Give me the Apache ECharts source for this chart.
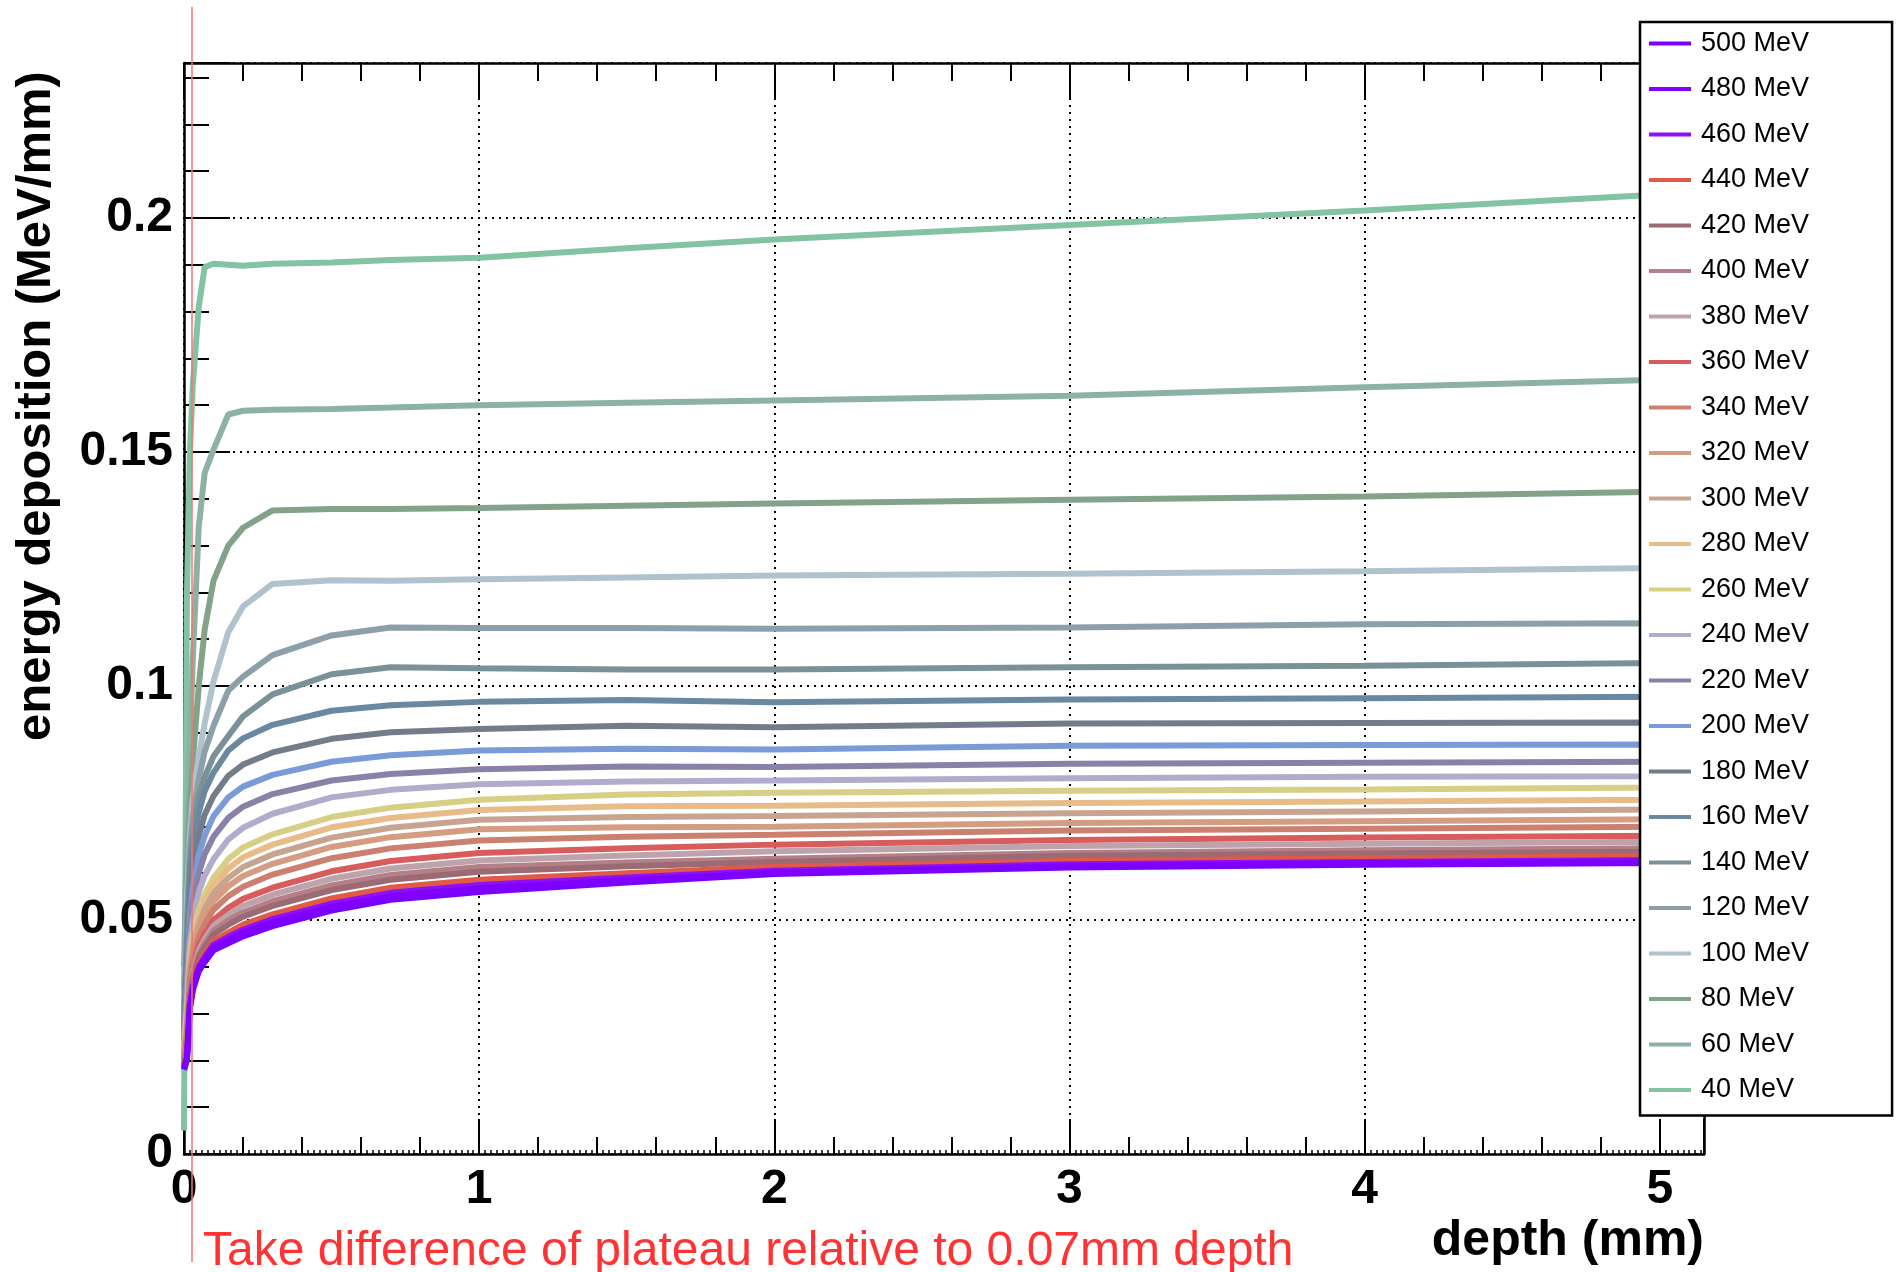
<!DOCTYPE html>
<html>
<head>
<meta charset="utf-8">
<script src="https://cdn.jsdelivr.net/npm/echarts@6/dist/echarts.min.js"></script>
<style>html,body{margin:0;padding:0;background:#fff}#c{width:1898px;height:1272px}</style>
</head>
<body>
<div id="c"></div>
<script>
// ---- data ----
const depth = [0, 0.01, 0.02, 0.03, 0.05, 0.07, 0.1, 0.15, 0.2, 0.3, 0.5, 0.7, 1.0, 1.5, 2.0, 3.0, 4.0, 5.0, 5.15];

const e40  = [0.005, 0.12, 0.15, 0.1645, 0.181, 0.1895, 0.1902, 0.19, 0.1898, 0.1902, 0.1905, 0.191, 0.1915, 0.1935, 0.1954, 0.1985, 0.2016, 0.205, 0.2055];
const e60  = [0.04, 0.07, 0.088, 0.106, 0.134, 0.1455, 0.1505, 0.158, 0.1588, 0.159, 0.1592, 0.1595, 0.16, 0.1605, 0.161, 0.162, 0.1638, 0.1654, 0.1658];
const e80  = [0.035, 0.06, 0.075, 0.084, 0.1, 0.112, 0.1225, 0.13, 0.1338, 0.1375, 0.1378, 0.1378, 0.138, 0.1385, 0.139, 0.1398, 0.1405, 0.1415, 0.1418];
const e100 = [0.032, 0.055, 0.068, 0.076, 0.085, 0.092, 0.101, 0.1115, 0.117, 0.1218, 0.1226, 0.1225, 0.1228, 0.1232, 0.1236, 0.124, 0.1245, 0.1252, 0.1255];
const e120 = [0.03, 0.05, 0.065, 0.072, 0.080, 0.086, 0.0915, 0.099, 0.102, 0.1066, 0.1108, 0.1125, 0.1124, 0.1124, 0.1122, 0.1125, 0.1132, 0.1134, 0.1133];
const e140 = [0.028, 0.046, 0.062, 0.069, 0.0765, 0.0805, 0.085, 0.0893, 0.0935, 0.0982, 0.1025, 0.104, 0.1038, 0.1035, 0.1035, 0.104, 0.1043, 0.1049, 0.1048];
const e160 = [0.027, 0.043, 0.059, 0.066, 0.073, 0.0775, 0.0815, 0.0862, 0.0888, 0.0917, 0.0947, 0.0959, 0.0966, 0.097, 0.0965, 0.0971, 0.0974, 0.0977, 0.0976];
const e180 = [0.026, 0.040, 0.055, 0.062, 0.068, 0.0725, 0.0765, 0.0808, 0.0832, 0.0858, 0.0887, 0.0901, 0.0908, 0.0915, 0.0912, 0.092, 0.0921, 0.0922, 0.0921];
const e200 = [0.025, 0.037, 0.051, 0.057, 0.064, 0.068, 0.0722, 0.0762, 0.0785, 0.081, 0.0838, 0.0852, 0.0862, 0.0866, 0.0864, 0.0872, 0.0874, 0.0875, 0.0874];
const e220 = [0.024, 0.035, 0.048, 0.054, 0.060, 0.064, 0.0678, 0.0718, 0.0742, 0.0769, 0.0798, 0.0812, 0.0822, 0.0828, 0.0827, 0.0834, 0.0836, 0.0838, 0.0838];
const e240 = [0.023, 0.033, 0.045, 0.050, 0.056, 0.0595, 0.063, 0.0672, 0.0697, 0.0727, 0.0762, 0.0778, 0.079, 0.0796, 0.0798, 0.0803, 0.0806, 0.0807, 0.0808];
const e260 = [0.022, 0.030, 0.042, 0.047, 0.052, 0.0555, 0.059, 0.063, 0.0655, 0.0683, 0.072, 0.074, 0.0757, 0.0768, 0.0772, 0.0776, 0.0779, 0.0783, 0.0784];
const e280 = [0.0216, 0.0289, 0.0408, 0.0457, 0.0506, 0.0539, 0.0573, 0.061, 0.0634, 0.0661, 0.0698, 0.0718, 0.0735, 0.0743, 0.0744, 0.075, 0.0753, 0.0757, 0.0758];
const e300 = [0.0211, 0.0278, 0.0396, 0.0444, 0.0491, 0.0523, 0.0556, 0.059, 0.0613, 0.064, 0.0676, 0.0697, 0.0714, 0.072, 0.0722, 0.0728, 0.0732, 0.0736, 0.0736];
const e320 = [0.0207, 0.0268, 0.0385, 0.0432, 0.0478, 0.0509, 0.054, 0.0572, 0.0594, 0.062, 0.0656, 0.0677, 0.0694, 0.0698, 0.0699, 0.0707, 0.0711, 0.0715, 0.0715];
const e340 = [0.0202, 0.0256, 0.0372, 0.0417, 0.0463, 0.0491, 0.0522, 0.0551, 0.0571, 0.0597, 0.0632, 0.0653, 0.067, 0.0678, 0.0682, 0.0691, 0.0695, 0.0699, 0.0699];
const e360 = [0.0197, 0.0242, 0.0356, 0.04, 0.0445, 0.0471, 0.05, 0.0526, 0.0545, 0.0569, 0.0604, 0.0626, 0.0643, 0.0653, 0.0661, 0.0671, 0.0676, 0.068, 0.0679];
const e380 = [0.0194, 0.0234, 0.0347, 0.0391, 0.0434, 0.0459, 0.0488, 0.0511, 0.053, 0.0554, 0.0588, 0.061, 0.0627, 0.0638, 0.0647, 0.0658, 0.0663, 0.0667, 0.0666];
const e400 = [0.0191, 0.0227, 0.034, 0.0382, 0.0425, 0.0449, 0.0477, 0.0499, 0.0516, 0.054, 0.0574, 0.0596, 0.0613, 0.0623, 0.0631, 0.0643, 0.0649, 0.0653, 0.0651];
const e420 = [0.0189, 0.0222, 0.0334, 0.0376, 0.0419, 0.0442, 0.0469, 0.049, 0.0507, 0.053, 0.0564, 0.0586, 0.0603, 0.0615, 0.0624, 0.0637, 0.0642, 0.0646, 0.0645];
const e440 = [0.0185, 0.0213, 0.0324, 0.0366, 0.0407, 0.0429, 0.0455, 0.0473, 0.049, 0.0512, 0.0546, 0.0569, 0.0586, 0.06, 0.0613, 0.0626, 0.0632, 0.0636, 0.0634];
const e460 = [0.0183, 0.0208, 0.0318, 0.0359, 0.0400, 0.0421, 0.0447, 0.0464, 0.0479, 0.0502, 0.0535, 0.0558, 0.0575, 0.0591, 0.0605, 0.0619, 0.0624, 0.0628, 0.0627];
const e480 = [0.0182, 0.0204, 0.0314, 0.0355, 0.0395, 0.0416, 0.0441, 0.0457, 0.0473, 0.0495, 0.0528, 0.0551, 0.0568, 0.0585, 0.0601, 0.0615, 0.0621, 0.0625, 0.0623];
const e500 = [0.018, 0.020, 0.031, 0.035, 0.039, 0.041, 0.0435, 0.045, 0.0465, 0.0487, 0.052, 0.0543, 0.056, 0.058, 0.0598, 0.0612, 0.0618, 0.0622, 0.062];

const energies = ['40 MeV','60 MeV','80 MeV','100 MeV','120 MeV','140 MeV','160 MeV','180 MeV','200 MeV','220 MeV','240 MeV','260 MeV','280 MeV','300 MeV','320 MeV','340 MeV','360 MeV','380 MeV','400 MeV','420 MeV','440 MeV','460 MeV','480 MeV','500 MeV'];
const values = [e40,e60,e80,e100,e120,e140,e160,e180,e200,e220,e240,e260,e280,e300,e320,e340,e360,e380,e400,e420,e440,e460,e480,e500];
const colors = ['#82c4a2','#8db2a4','#82a28a','#b0c2cc','#8ca0aa','#7b9198','#6a88a0','#737d8a','#7a9ad8','#8882a8','#b3abcb','#d6cf84','#e8bc88','#c8a490','#d49c80','#cc8070','#d95c5c','#bfa3ac','#b48088','#9c6a73','#e05a48','#8f10f5','#8200ff','#7b00ff'];
const legendOrder = energies.slice().reverse();

const xTickLabels = ['0','1','2','3','4','5'];
const yTickLabels = ['0','0.05','0.1','0.15','0.2'];
const X_MAX = 5.15;
const Y_MAX = 0.2331;

// ---- chart ----
const FONT = '"Liberation Sans", Arial, Helvetica, sans-serif';
const black = {color:'#000', width:2.5};
const chart = echarts.init(document.getElementById('c'), null, {renderer:'canvas'});

const xBase = {type:'value', min:0, max:X_MAX, gridIndex:0};
const yBase = {type:'value', min:0, max:Y_MAX, gridIndex:0};
const off = {show:false};
const dotted = {show:true, lineStyle:{color:'#000', width:2, type:[2,5]}};

chart.setOption({
  animation:false,
  backgroundColor:'#fff',
  grid:{left:184, top:63, width:1520, height:1091, containLabel:false},
  xAxis:[
    Object.assign({}, xBase, {position:'bottom', interval:1,
      axisLine:{show:true, onZero:false, lineStyle:black},
      axisTick:{show:true, inside:true, length:35, lineStyle:{color:'#000', width:2}},
      axisLabel:{show:true, margin:12, fontSize:48, fontWeight:'bold', color:'#000', fontFamily:FONT,
        formatter:v => { const s = String(+v.toFixed(3)); return xTickLabels.includes(s) ? s : ''; }},
      splitLine:dotted}),
    Object.assign({}, xBase, {position:'bottom', interval:0.2,
      axisLine:{show:false, onZero:false},
      axisTick:{show:true, inside:true, length:17, lineStyle:{color:'#000', width:2}},
      axisLabel:off, splitLine:off}),
    Object.assign({}, xBase, {position:'bottom', interval:0.02,
      axisLine:{show:false, onZero:false},
      axisTick:{show:true, inside:true, length:4, lineStyle:{color:'#000', width:1.5}},
      axisLabel:off, splitLine:off}),
    Object.assign({}, xBase, {position:'top', interval:1,
      axisLine:{show:true, onZero:false, lineStyle:black},
      axisTick:{show:true, inside:true, length:37, lineStyle:{color:'#000', width:2}},
      axisLabel:off, splitLine:off}),
    Object.assign({}, xBase, {position:'top', interval:0.2,
      axisLine:{show:false, onZero:false},
      axisTick:{show:true, inside:true, length:18, lineStyle:{color:'#000', width:2}},
      axisLabel:off, splitLine:off})
  ],
  yAxis:[
    Object.assign({}, yBase, {position:'left', interval:0.05,
      axisLine:{show:true, onZero:false, lineStyle:black},
      axisTick:{show:true, inside:true, length:46, lineStyle:{color:'#000', width:2}},
      axisLabel:{show:true, margin:11, fontSize:48, fontWeight:'bold', color:'#000', fontFamily:FONT,
        formatter:v => { const s = String(+v.toFixed(4)); return yTickLabels.includes(s) ? s : ''; }},
      splitLine:dotted}),
    Object.assign({}, yBase, {position:'left', interval:0.01,
      axisLine:{show:false, onZero:false},
      axisTick:{show:true, inside:true, length:25, lineStyle:{color:'#000', width:2}},
      axisLabel:off, splitLine:off}),
    Object.assign({}, yBase, {position:'right',
      axisLine:{show:true, onZero:false, lineStyle:black},
      axisTick:off, axisLabel:off, splitLine:off})
  ],
  legend:{
    show:true, orient:'vertical', left:1640, top:22,
    padding:[8, 83, 12, 9],
    backgroundColor:'#fff', borderColor:'#000', borderWidth:2.5, borderRadius:0,
    itemWidth:42, itemHeight:4, itemGap:18.5, selectedMode:false,
    icon:'rect',
    data:legendOrder, z:10,
    textStyle:{fontSize:27, lineHeight:27, color:'#000', fontFamily:FONT, padding:[0,0,0,5]}
  },
  graphic:[
    {type:'line', z:100, shape:{x1:192, y1:7, x2:192, y2:1262}, style:{stroke:'#f07474', lineWidth:1.5}},
    {type:'text', z:20, x:36, y:406, rotation:Math.PI/2,
      style:{text:'energy deposition (MeV/mm)', fontSize:49, fontWeight:'bold', fontFamily:FONT, fill:'#000', align:'center', verticalAlign:'middle'}},
    {type:'text', z:20, x:1704, y:1241,
      style:{text:'depth (mm)', fontSize:50, fontWeight:'bold', fontFamily:FONT, fill:'#000', align:'right', verticalAlign:'middle'}},
    {type:'text', z:20, x:203, y:1252,
      style:{text:'Take difference of plateau relative to 0.07mm depth', fontSize:48, fontFamily:FONT, fill:'#ff3333', align:'left', verticalAlign:'middle'}}
  ],
  series: energies.map((name, i) => ({
    name, type:'line', xAxisIndex:0, yAxisIndex:0,
    data: depth.map((d, j) => [d, values[i][j]]),
    symbol:'none', showSymbol:false, clip:true,
    lineStyle:{width:6, color:colors[i]}, itemStyle:{color:colors[i]},
    emphasis:{disabled:true}
  }))
});
</script>
</body>
</html>
